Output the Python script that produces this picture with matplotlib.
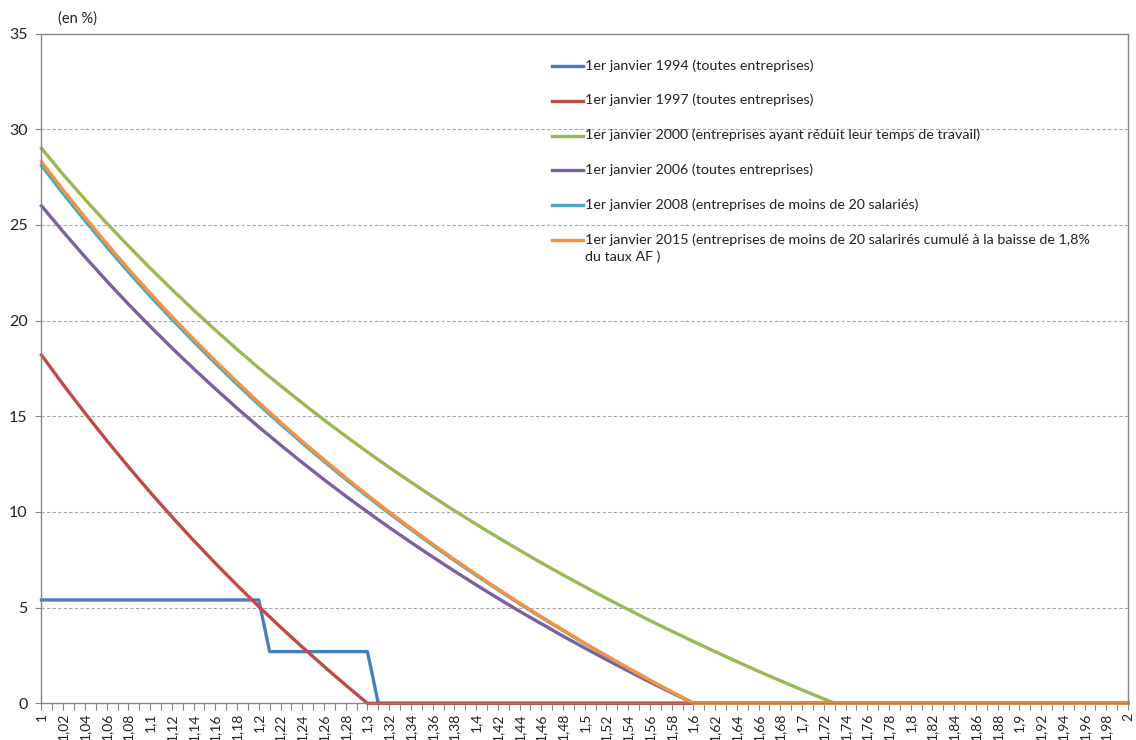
import matplotlib
matplotlib.use("Agg")
import matplotlib.pyplot as plt
import numpy as np

plt.rcParams['font.family'] = ['Lato', 'DejaVu Sans']

# SMIC multiples (x) and reduction rates in % (y)
x_1994 = [1.00, 1.20, 1.21, 1.30, 1.31, 2.00]
y_1994 = [5.4, 5.4, 2.7, 2.7, 0.0, 0.0]

x_1997 = [1.00, 1.02, 1.04, 1.06, 1.08, 1.10, 1.12, 1.14, 1.16, 1.18,
          1.20, 1.22, 1.24, 1.26, 1.28, 1.30, 2.00]
y_1997 = [18.2, 16.65, 15.17, 13.74, 12.36, 11.03, 9.75, 8.51, 7.32, 6.17,
          5.06, 3.98, 2.94, 1.93, 0.95, 0.0, 0.0]

x_2000 = [1.00, 1.02, 1.04, 1.06, 1.08, 1.10, 1.12, 1.14, 1.16, 1.18,
          1.20, 1.22, 1.24, 1.26, 1.28, 1.30, 1.32, 1.34, 1.36, 1.38,
          1.40, 1.42, 1.44, 1.46, 1.48, 1.50, 1.52, 1.54, 1.56, 1.58,
          1.60, 1.62, 1.64, 1.66, 1.68, 1.70, 1.72, 1.73, 2.00]
y_2000 = [29.0, 27.63, 26.34, 25.09, 23.90, 22.74, 21.63, 20.55, 19.51, 18.50,
          17.52, 16.60, 15.69, 14.81, 13.96, 13.13, 12.33, 11.56, 10.80, 10.07,
          9.36, 8.67, 8.00, 7.34, 6.71, 6.09, 5.48, 4.90, 4.32, 3.77,
          3.23, 2.70, 2.18, 1.67, 1.18, 0.70, 0.23, 0.0, 0.0]

# 2006, 2008 and 2015 share the same points (zero from 1.6 SMIC)
x_160 = [1.00, 1.02, 1.04, 1.06, 1.08, 1.10, 1.12, 1.14, 1.16, 1.18,
         1.20, 1.22, 1.24, 1.26, 1.28, 1.30, 1.32, 1.34, 1.36, 1.38,
         1.40, 1.42, 1.44, 1.46, 1.48, 1.50, 1.52, 1.54, 1.56, 1.58,
         1.60, 2.00]
y_2006 = [26.0, 24.64, 23.33, 22.07, 20.86, 19.70, 18.57, 17.49, 16.44, 15.42,
          14.44, 13.50, 12.58, 11.69, 10.83, 10.0, 9.19, 8.41, 7.65, 6.91,
          6.19, 5.49, 4.81, 4.16, 3.51, 2.89, 2.28, 1.69, 1.11, 0.55,
          0.0, 0.0]
y_2008 = [28.1, 26.63, 25.22, 23.85, 22.54, 21.28, 20.07, 18.90, 17.77, 16.67,
          15.61, 14.59, 13.60, 12.64, 11.71, 10.81, 9.93, 9.09, 8.26, 7.47,
          6.69, 5.94, 5.20, 4.49, 3.80, 3.12, 2.47, 1.83, 1.20, 0.59,
          0.0, 0.0]
y_2015 = [28.3, 26.82, 25.40, 24.02, 22.70, 21.43, 20.21, 19.03, 17.89, 16.79,
          15.72, 14.69, 13.69, 12.73, 11.79, 10.88, 10.0, 9.15, 8.32, 7.52,
          6.74, 5.98, 5.24, 4.52, 3.83, 3.14, 2.49, 1.84, 1.21, 0.6,
          0.0, 0.0]

labels = [
    "1er janvier 1994 (toutes entreprises)",
    "1er janvier 1997 (toutes entreprises)",
    "1er janvier 2000 (entreprises ayant réduit leur temps de travail)",
    "1er janvier 2006 (toutes entreprises)",
    "1er janvier 2008 (entreprises de moins de 20 salariés)",
    "1er janvier 2015 (entreprises de moins de 20 salarirés cumulé à la baisse de 1,8%\ndu taux AF )",
]
colors = ['#4A7EBB', '#BE4B48', '#98B954', '#7D60A0', '#46AAC5', '#F69240']

categories = np.round(np.arange(100, 201) / 100, 2)
y_ticks = [0, 5, 10, 15, 20, 25, 30, 35]

series = [(x_1994, y_1994), (x_1997, y_1997), (x_2000, y_2000),
          (x_160, y_2006), (x_160, y_2008), (x_160, y_2015)]

fig = plt.figure(figsize=(11.36, 7.40), dpi=100)
ax = fig.add_axes([0.0365, 0.0496, 0.9565, 0.9051])

for (xs, ys), col in zip(series, colors):
    ax.plot(xs, ys, color=col, lw=2.4, solid_joinstyle='round', clip_on=False)

ax.set_xlim(1, 2)
ax.set_ylim(0, 35)

# x axis: tick at every category, label every other one
ax.set_xticks(categories)
xt_labels = []
for i, c in enumerate(categories):
    if i % 2 == 0:
        xt_labels.append(('%g' % c).replace('.', ','))
    else:
        xt_labels.append('')
ax.set_xticklabels(xt_labels, rotation=90, fontsize=10, color='#222222')
ax.tick_params(axis='x', length=5, width=0.8, color='#868686', pad=2)

ax.set_yticks(y_ticks)
ax.set_yticklabels([str(v) for v in y_ticks], fontsize=11.5, color='#222222')
ax.tick_params(axis='y', length=4, width=0.8, color='#868686', pad=6)

for v in y_ticks[1:-1]:
    ax.axhline(v, color='#A6A6A6', lw=0.8, ls=(0, (3, 2)), zorder=0)

for s in ax.spines.values():
    s.set_color('#868686')
    s.set_linewidth(1.0)

ax.text(0.015, 1.012, "(en %)", transform=ax.transAxes, fontsize=10.5,
        color='#222222', va='bottom', ha='left')

# legend drawn Excel-style: handle aligned with first line of text
y0 = 0.9515
step = 0.052
for i, (lab, col) in enumerate(zip(labels, colors)):
    yy = y0 - i * step
    ax.plot([0.470, 0.4985], [yy, yy], transform=ax.transAxes, color=col,
            lw=2.4, clip_on=False)
    ax.text(0.5005, yy + 0.0105, lab, transform=ax.transAxes, fontsize=10.3,
            color='#222222', va='top', ha='left', linespacing=1.45)

fig.savefig("out.png", dpi=100)
